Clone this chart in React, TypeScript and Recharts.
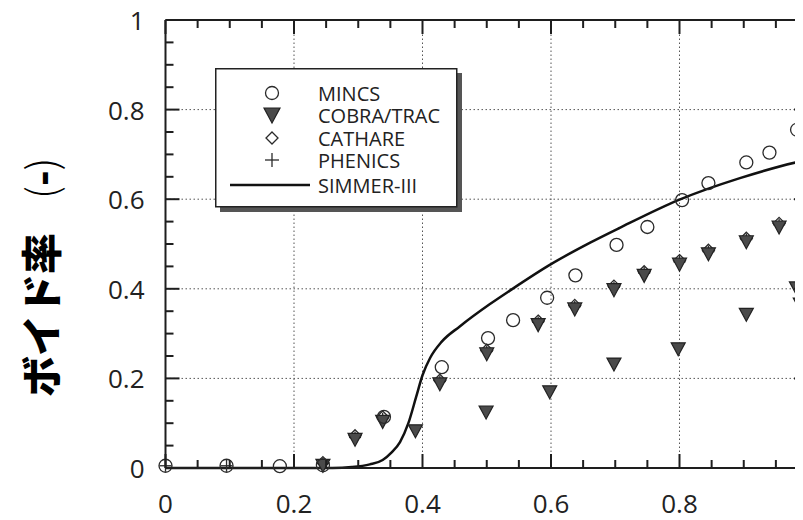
import React from 'react';
import { ComposedChart, XAxis, YAxis, Scatter, Line, ReferenceLine, Legend } from 'recharts';

// ---- data (x: normalized axial position, y: void fraction) ----
const mincs = [
  { x: 0.0, y: 0.005 }, { x: 0.095, y: 0.005 }, { x: 0.178, y: 0.004 }, { x: 0.245, y: 0.006 },
  { x: 0.34, y: 0.114 }, { x: 0.43, y: 0.225 }, { x: 0.502, y: 0.29 }, { x: 0.541, y: 0.33 },
  { x: 0.594, y: 0.38 }, { x: 0.638, y: 0.43 }, { x: 0.702, y: 0.498 }, { x: 0.75, y: 0.538 },
  { x: 0.804, y: 0.598 }, { x: 0.845, y: 0.636 }, { x: 0.904, y: 0.682 }, { x: 0.94, y: 0.704 },
  { x: 0.983, y: 0.755 },
];
const cobraUpper = [
  { x: 0.245, y: 0.006 }, { x: 0.295, y: 0.064 }, { x: 0.338, y: 0.104 }, { x: 0.427, y: 0.188 },
  { x: 0.5, y: 0.255 }, { x: 0.58, y: 0.32 }, { x: 0.637, y: 0.355 }, { x: 0.698, y: 0.398 },
  { x: 0.745, y: 0.43 }, { x: 0.8, y: 0.455 }, { x: 0.845, y: 0.478 }, { x: 0.904, y: 0.505 },
  { x: 0.955, y: 0.538 },
];
const cobraLower = [
  { x: 0.389, y: 0.083 }, { x: 0.499, y: 0.125 }, { x: 0.598, y: 0.17 }, { x: 0.698, y: 0.232 },
  { x: 0.798, y: 0.266 }, { x: 0.904, y: 0.343 }, { x: 0.982, y: 0.402 }, { x: 0.988, y: 0.366 },
];
const cathare = [
  { x: 0.245, y: 0.012 }, { x: 0.295, y: 0.072 }, { x: 0.338, y: 0.114 }, { x: 0.427, y: 0.196 },
  { x: 0.5, y: 0.263 }, { x: 0.58, y: 0.328 }, { x: 0.637, y: 0.363 }, { x: 0.698, y: 0.406 },
  { x: 0.745, y: 0.438 }, { x: 0.8, y: 0.463 }, { x: 0.845, y: 0.486 }, { x: 0.904, y: 0.513 },
  { x: 0.955, y: 0.546 }, { x: 0.993, y: 0.565 },
];
const phenics = [
  { x: 0.0, y: 0.005 }, { x: 0.095, y: 0.005 }, { x: 0.245, y: 0.01 }, { x: 0.295, y: 0.068 },
  { x: 0.338, y: 0.11 }, { x: 0.427, y: 0.193 }, { x: 0.5, y: 0.26 }, { x: 0.58, y: 0.325 },
  { x: 0.637, y: 0.36 }, { x: 0.698, y: 0.403 }, { x: 0.745, y: 0.435 }, { x: 0.8, y: 0.46 },
  { x: 0.845, y: 0.483 }, { x: 0.904, y: 0.51 }, { x: 0.955, y: 0.543 },
];
const simmer = [
  { x: 0.0, y: 0.0 }, { x: 0.1, y: 0.0 }, { x: 0.2, y: 0.0 }, { x: 0.26, y: 0.0 },
  { x: 0.29, y: 0.002 }, { x: 0.318, y: 0.008 }, { x: 0.338, y: 0.018 }, { x: 0.352, y: 0.035 },
  { x: 0.365, y: 0.058 }, { x: 0.378, y: 0.1 }, { x: 0.39, y: 0.158 }, { x: 0.4, y: 0.207 },
  { x: 0.412, y: 0.246 }, { x: 0.43, y: 0.282 }, { x: 0.458, y: 0.316 }, { x: 0.505, y: 0.366 },
  { x: 0.536, y: 0.396 }, { x: 0.6, y: 0.455 }, { x: 0.661, y: 0.503 }, { x: 0.707, y: 0.536 },
  { x: 0.8, y: 0.599 }, { x: 0.894, y: 0.647 }, { x: 0.987, y: 0.684 }, { x: 1.0, y: 0.688 },
];

const axisTicks = [0, 0.05, 0.1, 0.15, 0.2, 0.25, 0.3, 0.35, 0.4, 0.45, 0.5, 0.55, 0.6, 0.65, 0.7, 0.75, 0.8, 0.85, 0.9, 0.95, 1];
const majorTicks = [0, 0.2, 0.4, 0.6, 0.8, 1];
const tickLabels = ['0', '0.2', '0.4', '0.6', '0.8', '1'];
const gridValues = [0.2, 0.4, 0.6, 0.8];
const legendNames = ['MINCS', 'COBRA/TRAC', 'CATHARE', 'PHENICS', 'SIMMER-III'];
const yAxisTitle = 'ボイド率';

const FONT = '"Open Sans", "DejaVu Sans", sans-serif';
const INK = '#1e1e1e';
const MAJOR_LEN = 14;
const MINOR_LEN = 8;

const majorIndex = (v: number) => majorTicks.findIndex((m) => Math.abs(m - v) < 1e-6);

const BottomTick = (p: any) => {
  const { x, y, payload } = p;
  const mi = majorIndex(payload.value);
  const len = mi >= 0 ? MAJOR_LEN : MINOR_LEN;
  return (
    <g>
      <line x1={x} y1={y} x2={x} y2={y - len} stroke={INK} strokeWidth={2} />
      {mi >= 0 && (
        <text x={x} y={y + 35} textAnchor="middle" dominantBaseline="central" fontSize={26} fill="#222" fontFamily={FONT}>
          {tickLabels[mi]}
        </text>
      )}
    </g>
  );
};
const TopTick = (p: any) => {
  const { x, y, payload } = p;
  const len = majorIndex(payload.value) >= 0 ? MAJOR_LEN : MINOR_LEN;
  return <line x1={x} y1={y} x2={x} y2={y + len} stroke={INK} strokeWidth={2} />;
};
const LeftTick = (p: any) => {
  const { x, y, payload } = p;
  const mi = majorIndex(payload.value);
  const len = mi >= 0 ? MAJOR_LEN : MINOR_LEN;
  return (
    <g>
      <line x1={x} y1={y} x2={x + len} y2={y} stroke={INK} strokeWidth={2} />
      {mi >= 0 && (
        <text x={x - 21} y={y} textAnchor="end" dominantBaseline="central" fontSize={26} fill="#222" fontFamily={FONT}>
          {tickLabels[mi]}
        </text>
      )}
    </g>
  );
};
const RightTick = (p: any) => {
  const { x, y, payload } = p;
  const len = majorIndex(payload.value) >= 0 ? MAJOR_LEN : MINOR_LEN;
  return <line x1={x} y1={y} x2={x - len} y2={y} stroke={INK} strokeWidth={2} />;
};

const circleShape = (p: any) => (
  <circle cx={p.cx} cy={p.cy} r={6.5} fill="none" stroke="#2a2a2a" strokeWidth={1.3} />
);
const triangleShape = (p: any) => (
  <polygon
    points={`${p.cx - 7},${p.cy - 6} ${p.cx + 7},${p.cy - 6} ${p.cx},${p.cy + 7}`}
    fill="#4a4a4a" stroke="#222" strokeWidth={1.2}
  />
);
const diamondShape = (p: any) => (
  <polygon
    points={`${p.cx},${p.cy - 6} ${p.cx + 6},${p.cy} ${p.cx},${p.cy + 6} ${p.cx - 6},${p.cy}`}
    fill="none" stroke="#2a2a2a" strokeWidth={1.3}
  />
);
const plusShape = (p: any) => (
  <g stroke="#2a2a2a" strokeWidth={1.3}>
    <line x1={p.cx - 6} y1={p.cy} x2={p.cx + 6} y2={p.cy} />
    <line x1={p.cx} y1={p.cy - 6} x2={p.cx} y2={p.cy + 6} />
  </g>
);

const YTitle = (props: any) => {
  const vb = props.viewBox || { x: 0, y: 0, width: 0, height: 0 };
  const cx = vb.x - 67;
  const by = vb.y + vb.height - 71;
  return (
    <text
      transform={`translate(${cx},${by}) rotate(-90)`}
      textAnchor="start"
      dominantBaseline="central"
      fontSize={41}
      fill="#000"
      fontFamily='"Noto Sans CJK JP", sans-serif'
    >
      <tspan fontWeight={900}>{yAxisTitle}</tspan>
      <tspan fontWeight={300} dx={34}>(</tspan>
      <tspan fontWeight={900}>-</tspan>
      <tspan fontWeight={300}>)</tspan>
    </text>
  );
};

const LegendBox = () => {
  const rows = [25, 47, 70, 92, 117];
  const mx = 57;
  return (
    <svg width={252} height={150} style={{ display: 'block' }}>
      <rect x={5} y={5} width={242} height={139} fill="#555" />
      <rect x={0.75} y={0.75} width={241} height={138} fill="#fff" stroke="#222" strokeWidth={1.5} />
      <circle cx={mx} cy={rows[0]} r={6.5} fill="none" stroke="#2a2a2a" strokeWidth={1.3} />
      <polygon points={`${mx - 8},${rows[1] - 7} ${mx + 8},${rows[1] - 7} ${mx},${rows[1] + 8}`} fill="#4a4a4a" stroke="#222" strokeWidth={1.2} />
      <polygon points={`${mx},${rows[2] - 6} ${mx + 6},${rows[2]} ${mx},${rows[2] + 6} ${mx - 6},${rows[2]}`} fill="none" stroke="#2a2a2a" strokeWidth={1.3} />
      <g stroke="#2a2a2a" strokeWidth={1.3}>
        <line x1={mx - 7} y1={rows[3]} x2={mx + 7} y2={rows[3]} />
        <line x1={mx} y1={rows[3] - 7} x2={mx} y2={rows[3] + 7} />
      </g>
      <line x1={15} y1={rows[4]} x2={95} y2={rows[4]} stroke="#111" strokeWidth={2.5} />
      {legendNames.map((n, i) => (
        <text key={n} x={103} y={rows[i]} dominantBaseline="central" fontSize={20} fill="#222" fontFamily={FONT}>
          {n}
        </text>
      ))}
    </svg>
  );
};

export default function App() {
  return (
    <div style={{ width: 803, height: 520, margin: '-8px 0 0 -8px', overflow: 'hidden', position: 'relative', background: '#fff' }}>
      <ComposedChart
        width={838}
        height={520}
        margin={{ top: 18, right: 20, bottom: 2, left: 105.5 }}
        style={{ fontFamily: FONT }}
      >
        <XAxis
          xAxisId={0}
          type="number"
          dataKey="x"
          domain={[0, 1]}
          ticks={axisTicks}
          interval={0}
          height={50}
          tickSize={0}
          tickMargin={0}
          tick={BottomTick}
          axisLine={{ stroke: INK, strokeWidth: 2 }}
          tickLine={false}
        />
        <XAxis
          xAxisId="top"
          orientation="top"
          type="number"
          dataKey="x"
          domain={[0, 1]}
          ticks={axisTicks}
          interval={0}
          allowDataOverflow
          height={2}
          tickSize={0}
          tickMargin={0}
          tick={TopTick}
          axisLine={{ stroke: INK, strokeWidth: 2 }}
          tickLine={false}
        />
        <YAxis
          yAxisId={0}
          type="number"
          domain={[0, 1]}
          ticks={axisTicks}
          interval={0}
          width={60}
          tickSize={0}
          tickMargin={0}
          tick={LeftTick}
          axisLine={{ stroke: INK, strokeWidth: 2 }}
          tickLine={false}
          label={(props: any) => <YTitle {...props} />}
        />
        <YAxis
          yAxisId="right"
          orientation="right"
          type="number"
          domain={[0, 1]}
          ticks={axisTicks}
          interval={0}
          allowDataOverflow
          width={10}
          tickSize={0}
          tickMargin={0}
          tick={RightTick}
          axisLine={{ stroke: INK, strokeWidth: 2 }}
          tickLine={false}
        />
        {gridValues.map((v) => (
          <ReferenceLine key={`gx${v}`} x={v} xAxisId={0} yAxisId={0} stroke="#555" strokeWidth={1} strokeDasharray="1.5 2.5" />
        ))}
        {gridValues.map((v) => (
          <ReferenceLine key={`gy${v}`} y={v} xAxisId={0} yAxisId={0} stroke="#555" strokeWidth={1} strokeDasharray="1.5 2.5" />
        ))}
        <Line data={simmer} dataKey="y" xAxisId={0} yAxisId={0} type="monotone" dot={false} stroke="#111" strokeWidth={2.5} isAnimationActive={false} name="SIMMER-III" />
        <Scatter data={cathare} dataKey="y" xAxisId={0} yAxisId={0} shape={diamondShape} isAnimationActive={false} name="CATHARE" />
        <Scatter data={phenics} dataKey="y" xAxisId={0} yAxisId={0} shape={plusShape} isAnimationActive={false} name="PHENICS" />
        <Scatter data={cobraUpper} dataKey="y" xAxisId={0} yAxisId={0} shape={triangleShape} isAnimationActive={false} name="COBRA/TRAC" />
        <Scatter data={cobraLower} dataKey="y" xAxisId={0} yAxisId={0} shape={triangleShape} isAnimationActive={false} name="COBRA/TRAC (2)" />
        <Scatter data={mincs} dataKey="y" xAxisId={0} yAxisId={0} shape={circleShape} isAnimationActive={false} name="MINCS" />
        <Legend
          layout="vertical"
          align="center"
          verticalAlign="middle"
          content={() => <LegendBox />}
          wrapperStyle={{ position: 'absolute', left: 215, top: 68, width: 252, height: 150 }}
        />
      </ComposedChart>
    </div>
  );
}
